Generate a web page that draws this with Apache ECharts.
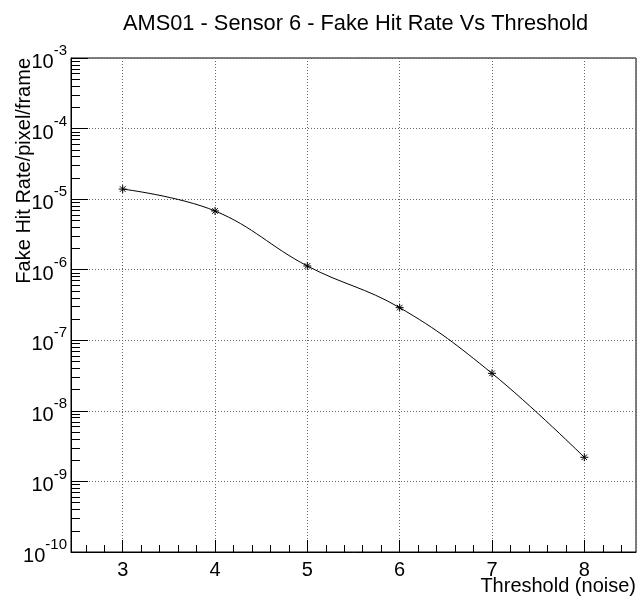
<!DOCTYPE html>
<html>
<head>
<meta charset="utf-8">
<script src="https://cdn.jsdelivr.net/npm/echarts@6/dist/echarts.min.js"></script>
<style>
html,body{margin:0;padding:0;background:#fff;}
#c{width:638px;height:598px;}
</style>
</head>
<body>
<div id="c"></div>
<script>
// ---- data ----
var thresholds = [3, 4, 5, 6, 7, 8];
var fakeHitRate = [1.39e-5, 6.8e-6, 1.13e-6, 2.9e-7, 3.4e-8, 2.2e-9];
var xMajorTicks = [3, 4, 5, 6, 7, 8];
var yDecadeExps = [-10, -9, -8, -7, -6, -5, -4, -3];
var titleText = 'AMS01 - Sensor 6 - Fake Hit Rate Vs Threshold';
var xTitle = 'Threshold (noise)';
var yTitle = 'Fake Hit Rate/pixel/frame';

var X_MIN = 2.44, X_MAX = 8.56;
var xMinor = [];
for (var v = 2.6; v < X_MAX; v += 0.2) {
  var r = Math.round(v * 10) / 10;
  if (Math.abs(r - Math.round(r)) > 1e-6) xMinor.push(r);
}
var yMinorLog = [];
for (var e = -10; e < -3; e++) {
  for (var k = 2; k <= 9; k++) yMinorLog.push(e + Math.log10(k));
}

var FONT = '"Liberation Sans", Arial, Helvetica, sans-serif';
var chart = echarts.init(document.getElementById('c'));
var gridLine = {show: true, lineStyle: {color: '#666', type: [1, 2], width: 1}};

chart.setOption({
  animation: false,
  backgroundColor: '#fff',
  textStyle: {fontFamily: FONT},
  title: {
    text: titleText,
    left: 118, top: 8,
    textStyle: {fontFamily: FONT, fontSize: 21.8, fontWeight: 'normal', color: '#000'}
  },
  grid: {left: 71, right: 2, top: 58, bottom: 46, show: true, borderColor: '#000', borderWidth: 1, backgroundColor: 'transparent'},
  xAxis: [{
    type: 'value', min: X_MIN, max: X_MAX, splitNumber: 6,
    axisLine: {show: true, onZero: false, lineStyle: {color: '#000', width: 1}},
    axisTick: {show: true, inside: true, length: 12, lineStyle: {color: '#000'}},
    axisLabel: {
      show: true, margin: 8, fontSize: 20, color: '#000', fontFamily: FONT,
      showMinLabel: false, showMaxLabel: false,
      formatter: function (val) { return xMajorTicks.indexOf(Math.round(val * 100) / 100) >= 0 ? String(val) : ''; }
    },
    splitLine: gridLine
  }, {
    type: 'value', min: X_MIN, max: X_MAX, position: 'bottom',
    axisLine: {show: false},
    axisTick: {show: true, inside: true, length: 7, customValues: xMinor, lineStyle: {color: '#000'}},
    axisLabel: {show: false},
    splitLine: {show: false}
  }],
  yAxis: [{
    type: 'log', logBase: 10, min: 1e-10, max: 1e-3,
    axisLine: {show: true, onZero: false, lineStyle: {color: '#000', width: 1}},
    axisTick: {show: true, inside: true, length: 17, lineStyle: {color: '#000'}},
    axisLabel: {
      show: true, margin: 4, color: '#000', fontFamily: FONT,
      formatter: function (val) {
        var ex = Math.round(Math.log10(val));
        return '{b|10}{s|' + ex + '}';
      },
      rich: {
        b: {fontSize: 20, fontFamily: FONT, color: '#000', padding: [9, 0, 0, 0]},
        s: {fontSize: 15, fontFamily: FONT, color: '#000', verticalAlign: 'top'}
      }
    },
    splitLine: gridLine
  }, {
    type: 'value', min: -10, max: -3, position: 'left',
    axisLine: {show: false},
    axisTick: {show: true, inside: true, length: 9, customValues: yMinorLog, lineStyle: {color: '#000'}},
    axisLabel: {show: false},
    splitLine: {show: false}
  }],
  graphic: [{
    type: 'text', x: 24, y: 58, rotation: Math.PI / 2,
    style: {text: yTitle, fontSize: 20, fontFamily: FONT, fill: '#000', align: 'right', verticalAlign: 'middle'}
  }, {
    type: 'text', x: 636, y: 586,
    style: {text: xTitle, fontSize: 20, fontFamily: FONT, fill: '#000', align: 'right', verticalAlign: 'middle'}
  }],
  series: [{
    type: 'line', xAxisIndex: 0, yAxisIndex: 0,
    data: thresholds.map(function (x, i) { return [x, fakeHitRate[i]]; }),
    smooth: 0.4,
    lineStyle: {color: '#000', width: 1},
    symbol: 'path://M0,-10L0,10M-10,0L10,0M-7,-7L7,7M-7,7L7,-7',
    symbolSize: 8,
    itemStyle: {color: 'none', borderColor: '#000', borderWidth: 1}
  }]
});
</script>
</body>
</html>
